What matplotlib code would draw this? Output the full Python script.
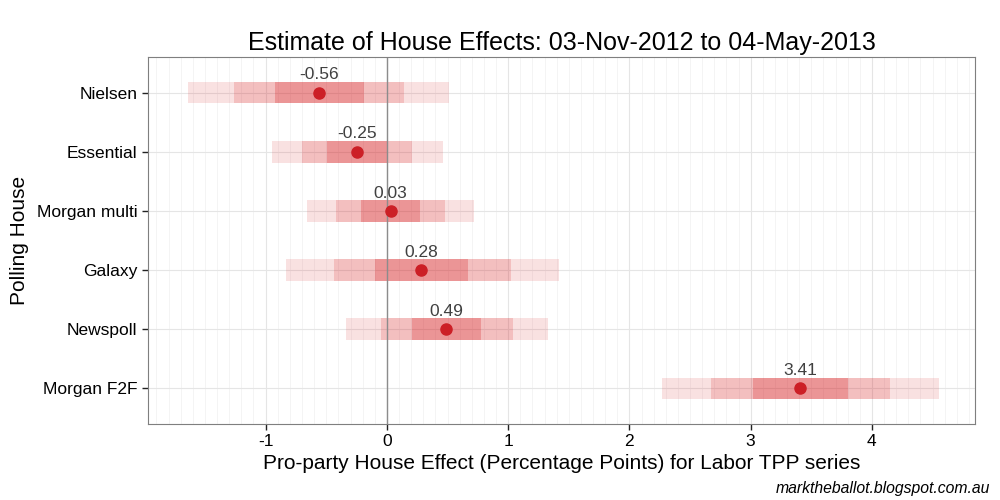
import matplotlib
matplotlib.use("Agg")
import matplotlib.pyplot as plt
import numpy as np

plt.rcParams["font.family"] = ["Liberation Sans", "DejaVu Sans"]
plt.rcParams["axes.unicode_minus"] = False

# houses listed top to bottom
HOUSES = ["Nielsen", "Essential", "Morgan multi", "Galaxy", "Newspoll", "Morgan F2F"]
MEDIAN = [-0.56, -0.25, 0.03, 0.28, 0.49, 3.41]
# credible interval edges: outer (lo, hi), middle (lo, hi), inner (lo, hi)
OUTER_LO = [-1.64, -0.95, -0.66, -0.83, -0.34, 2.27]
OUTER_HI = [0.51, 0.46, 0.72, 1.42, 1.33, 4.55]
MID_LO = [-1.26, -0.70, -0.42, -0.44, -0.05, 2.67]
MID_HI = [0.14, 0.21, 0.48, 1.02, 1.04, 4.15]
INNER_LO = [-0.92, -0.49, -0.21, -0.10, 0.21, 3.02]
INNER_HI = [-0.19, 0.00, 0.27, 0.67, 0.78, 3.80]

RED = "#d7191c"

fig = plt.figure(figsize=(10, 5), dpi=100)
ax = fig.add_axes([0.148, 0.152, 0.827, 0.734])

ypos = np.arange(len(HOUSES))[::-1] + 1  # Nielsen at top
h = 0.37

# minor grid every 0.1, major at integers
for v in np.arange(-1.9, 4.9, 0.1):
    if abs(v - round(v)) < 1e-6:
        continue
    ax.axvline(v, color="#f2f2f2", lw=0.6, zorder=0)
for v in range(-1, 5):
    ax.axvline(v, color="#e5e5e5", lw=0.8, zorder=0)
for y in ypos:
    ax.axhline(y, color="#e5e5e5", lw=0.8, zorder=0)

bands = [(OUTER_LO, OUTER_HI, 0.13), (MID_LO, MID_HI, 0.17), (INNER_LO, INNER_HI, 0.25)]
for lo, hi, a in bands:
    ax.barh(ypos, np.array(hi) - np.array(lo), left=lo, height=h,
            color=RED, alpha=a, lw=0, zorder=1)

ax.axvline(0, color="#8c8c8c", lw=1.0, zorder=2)
ax.plot(MEDIAN, ypos, "o", color="#cc1f26", ms=8, zorder=3)
for m, y in zip(MEDIAN, ypos):
    ax.text(m, y + 0.3, f"{m:.2f}", ha="center", va="center",
            fontsize=12.5, color="#404040", zorder=4)

ax.set_xlim(-1.97, 4.85)
ax.set_ylim(0.4, 6.6)
ax.set_yticks(ypos)
ax.set_yticklabels(HOUSES)
ax.set_xticks(range(-1, 5))
ax.tick_params(axis="both", labelsize=12.5, colors="#222222", labelcolor="black",
               length=4, width=1)
for sp in ax.spines.values():
    sp.set_color("#7f7f7f")
    sp.set_linewidth(0.8)

ax.set_title("Estimate of House Effects: 03-Nov-2012 to 04-May-2013",
             fontsize=18, pad=5)
ax.set_xlabel("Pro-party House Effect (Percentage Points) for Labor TPP series",
              fontsize=15, labelpad=3)
ax.set_ylabel("Polling House", fontsize=15, labelpad=6)

fig.text(0.99, 0.008, "marktheballot.blogspot.com.au", ha="right", va="bottom",
         fontsize=11.3, style="italic")

fig.savefig("out.png", dpi=100)
